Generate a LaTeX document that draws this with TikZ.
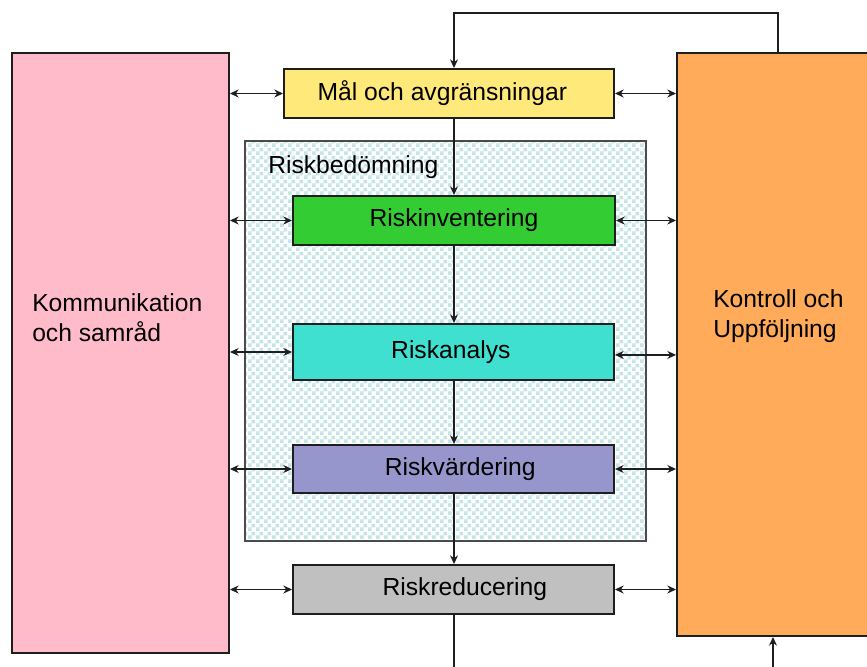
\documentclass[tikz,border=0pt]{standalone}
\usepackage{fontspec}
\setmainfont{Liberation Sans}
\usetikzlibrary{arrows.meta,patterns}

% coarse checkerboard used for the assessment area
\pgfdeclarepatternformonly{coarsechecks}{\pgfqpoint{0pt}{0pt}}{\pgfqpoint{6pt}{6pt}}{\pgfqpoint{6pt}{6pt}}{%
  \pgfpathrectangle{\pgfqpoint{0pt}{0pt}}{\pgfqpoint{3pt}{3pt}}%
  \pgfpathrectangle{\pgfqpoint{3pt}{3pt}}{\pgfqpoint{3pt}{3pt}}%
  \pgfusepath{fill}}

\definecolor{cpink}{RGB}{255,187,201}
\definecolor{corange}{RGB}{255,171,90}
\definecolor{cyellow}{RGB}{255,233,122}
\definecolor{cgreen}{RGB}{51,204,51}
\definecolor{cturq}{RGB}{64,224,208}
\definecolor{cpurple}{RGB}{150,150,204}
\definecolor{cgray}{RGB}{192,192,192}
\definecolor{cchecks}{RGB}{196,230,230}
\definecolor{cline}{RGB}{30,30,30}

\tikzset{
  boxstyle/.style={draw=cline, line width=1.5pt, inner sep=0pt, anchor=center,
    font=\fontsize{18.5}{22.5}\selectfont},
  conn/.style={draw=cline, line width=0.9pt},
  tip/.style={-{Stealth[length=6.5pt,width=6pt]}},
  bitip/.style={{Stealth[length=6.5pt,width=6pt]}-{Stealth[length=6.5pt,width=6pt]}},
  sidetext/.style={font=\fontsize{18.5}{22.5}\selectfont, anchor=west, inner sep=0pt}
}

\begin{document}
\begin{tikzpicture}[x=0.75pt,y=-0.75pt]
\useasboundingbox (0,0) rectangle (867,667);

% assessment area
\path[fill=white, postaction={pattern=coarsechecks, pattern color=cchecks}]
  (245,141) rectangle (646,541);
\draw[draw=cline!80, line width=1.1pt] (245,141) rectangle (646,541);
\node[sidetext] (assess) at (268,167) {Riskbedömning};

% side blocks
\node[boxstyle, fill=cpink, minimum width=217*0.75pt, minimum height=600*0.75pt] (comm) at (120.5,353) {};
\node[boxstyle, fill=corange, minimum width=223*0.75pt, minimum height=583*0.75pt] (ctrl) at (788.5,344.5) {};
\node[sidetext, align=left] (commtxt) at (32,318) {Kommunikation\\och samråd};
\node[sidetext, align=left] (ctrltxt) at (713,316) {Kontroll och\\Uppföljning};

% process steps
\node[boxstyle, fill=cyellow, minimum width=330*0.75pt, minimum height=49*0.75pt] (goal) at (449,93.5) {\hspace*{-10pt}Mål och avgränsningar};
\node[boxstyle, fill=cgreen, minimum width=322*0.75pt, minimum height=49*0.75pt] (inv) at (454,220.5) {Riskinventering};
\node[boxstyle, fill=cturq, minimum width=321*0.75pt, minimum height=56*0.75pt] (ana) at (453.5,352) {\hspace*{-4pt}Riskanalys};
\node[boxstyle, fill=cpurple, minimum width=321*0.75pt, minimum height=48*0.75pt] (eval) at (453.5,469) {\hspace*{10pt}Riskvärdering};
\node[boxstyle, fill=cgray, minimum width=321*0.75pt, minimum height=49*0.75pt] (red) at (453.5,589.5) {\hspace*{17pt}Riskreducering};

% free ends of the feedback paths
\coordinate (loopR) at (778,13);
\coordinate (loopL) at (454,13);
\coordinate (outBot) at (454,667);
\coordinate (inBot) at (773,667);
\coordinate (anaR) at ([yshift=-2.2pt]ana.east);

% main flow
\draw[conn, tip] (goal.south -| inv.north) -- (inv.north);
\draw[conn, tip] (inv.south -| loopL) -- (ana.north -| loopL);
\draw[conn, tip] (ana.south -| loopL) -- (eval.north -| loopL);
\draw[conn, tip] (eval.south -| loopL) -- (red.north -| loopL);
\draw[conn] (red.south -| loopL) -- (outBot);

% feedback from control to goals
\draw[conn, tip] (ctrl.north -| loopR) -- (loopR) -- (loopL) -- (goal.north -| loopL);
\draw[conn, tip] (inBot) -- (ctrl.south -| inBot);

% communication links
\foreach \n in {goal,inv,ana,eval,red}{
  \draw[conn, bitip] (comm.east |- \n.west) -- (\n.west);
}
% control links
\draw[conn, bitip] (goal.east) -- (ctrl.west |- goal.east);
\draw[conn, bitip] (inv.east) -- (ctrl.west |- inv.east);
\draw[conn, bitip] (anaR) -- (ctrl.west |- anaR);
\draw[conn, bitip] (eval.east) -- (ctrl.west |- eval.east);
\draw[conn, bitip] (red.east) -- (ctrl.west |- red.east);
\end{tikzpicture}
\end{document}
